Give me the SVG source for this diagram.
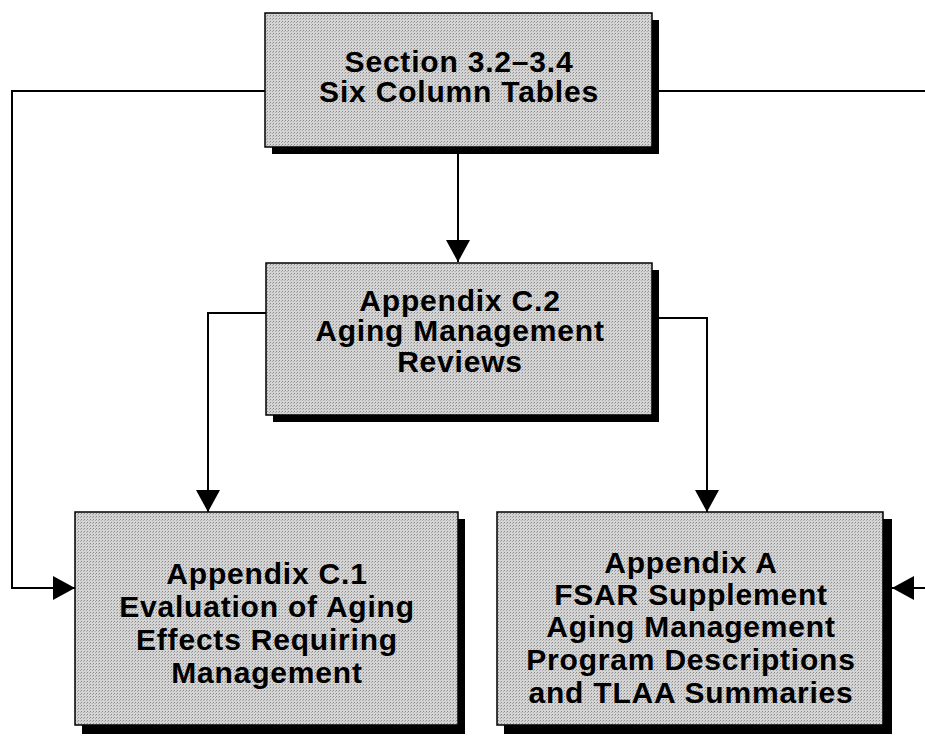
<svg xmlns="http://www.w3.org/2000/svg" width="925" height="744" viewBox="0 0 925 744">
<style>
.box{fill:#c4c4c4;stroke:#000;stroke-width:1.5}
.shadow{fill:#000}
.lbl{font-family:"Liberation Sans",Arial,sans-serif;font-weight:bold;font-size:30px;letter-spacing:0.8px;fill:#000;text-anchor:middle}
.conn{fill:none;stroke:#000;stroke-width:2}
</style>
<defs>
<pattern id="dots" width="3" height="3" patternUnits="userSpaceOnUse">
<rect width="3" height="3" fill="#d4d4d4"/>
<rect width="1" height="1" fill="#8a8a8a"/>
<rect x="2" y="1" width="1" height="1" fill="#aaaaaa"/>
</pattern>
<marker id="arr" markerUnits="userSpaceOnUse" markerWidth="24" markerHeight="24" refX="22" refY="12" orient="auto">
<path d="M0,0 L22,12 L0,24 Z" fill="#000"/>
</marker>
</defs>
<g id="connectors">
<path class="conn" d="M265,91 H12 V588 H75" marker-end="url(#arr)"/>
<path class="conn" d="M652,91 H930 V588 H892" marker-end="url(#arr)"/>
<path class="conn" d="M458,154 V262" marker-end="url(#arr)"/>
<path class="conn" d="M266,313 H208 V512" marker-end="url(#arr)"/>
<path class="conn" d="M657,318 H707 V512" marker-end="url(#arr)"/>
</g>
<g id="section">
<rect class="shadow" x="272" y="20" width="387" height="134"/>
<rect class="box" x="265" y="13" width="387" height="134" style="fill:url(#dots)"/>
<text class="lbl" x="459" y="72">Section 3.2–3.4</text>
<text class="lbl" x="459" y="102">Six Column Tables</text>
</g>
<g id="appc2">
<rect class="shadow" x="273" y="270" width="386" height="152"/>
<rect class="box" x="266" y="263" width="386" height="152" style="fill:url(#dots)"/>
<text class="lbl" x="460" y="311">Appendix C.2</text>
<text class="lbl" x="460" y="341">Aging Management</text>
<text class="lbl" x="460" y="372">Reviews</text>
</g>
<g id="appc1">
<rect class="shadow" x="82" y="519" width="383" height="215"/>
<rect class="box" x="75" y="512" width="383" height="213" style="fill:url(#dots)"/>
<text class="lbl" x="267" y="584">Appendix C.1</text>
<text class="lbl" x="267" y="617">Evaluation of Aging</text>
<text class="lbl" x="267" y="650">Effects Requiring</text>
<text class="lbl" x="267" y="683">Management</text>
</g>
<g id="appa">
<rect class="shadow" x="504" y="519" width="388" height="215"/>
<rect class="box" x="497" y="512" width="386" height="213" style="fill:url(#dots)"/>
<text class="lbl" x="691" y="573">Appendix A</text>
<text class="lbl" x="691" y="605">FSAR Supplement</text>
<text class="lbl" x="691" y="637">Aging Management</text>
<text class="lbl" x="691" y="670">Program Descriptions</text>
<text class="lbl" x="691" y="703">and TLAA Summaries</text>
</g>
</svg>
